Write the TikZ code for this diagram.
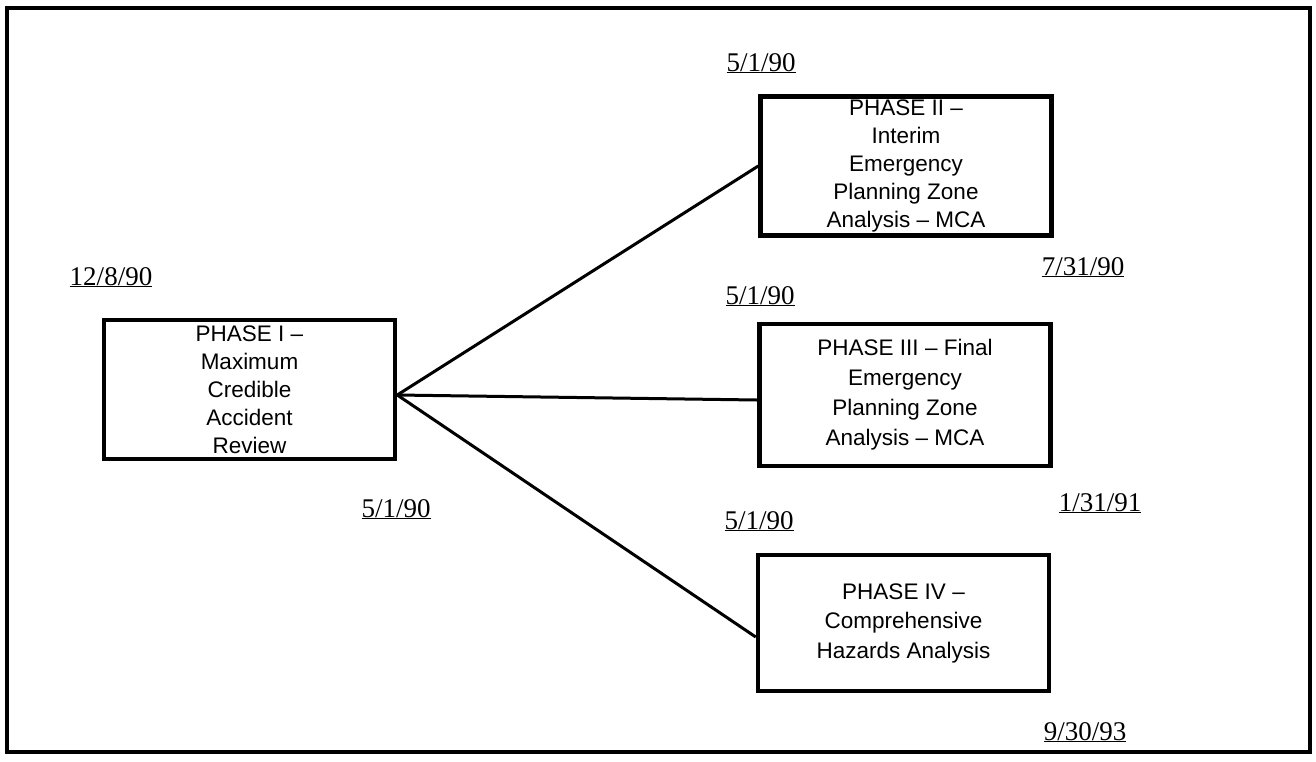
\documentclass[tikz,border=0pt]{standalone}
\usepackage{fontspec}
\setmainfont{Liberation Serif}
\newfontfamily\boxfont{Liberation Sans}
\begin{document}
\begin{tikzpicture}[x=1pt,y=-1pt,
  phase/.style={draw, line width=4.5pt, minimum width=291pt, minimum height=139pt,
    align=center, inner sep=0pt, font=\boxfont\fontsize{22.5}{28}\selectfont},
  datelbl/.style={anchor=base, font=\fontsize{27}{30}\selectfont, inner sep=0pt},
  link/.style={line width=3pt},
  frame/.style={line width=3.5pt}]
\useasboundingbox (0,0) rectangle (1316,761);
\draw[frame] (7,8) rectangle (1310,752);

\node[phase] (p1) at (249.5,389.5) {PHASE I –\\Maximum\\Credible\\Accident\\Review};
\node[phase] (p2) at (906,166) {PHASE II –\\Interim\\Emergency\\Planning Zone\\Analysis – MCA};
\node[phase, minimum height=142pt, font=\boxfont\fontsize{22.5}{30}\selectfont] (p3) at (905,395) {PHASE III – Final\\Emergency\\Planning Zone\\Analysis – MCA};
\node[phase, minimum height=136pt, font=\boxfont\fontsize{22.5}{29.5}\selectfont] (p4) at (903.5,623) {PHASE IV –\\Comprehensive\\Hazards Analysis};

\node[datelbl] (d1) at (111,285) {\underline{12/8/90}};
\node[datelbl] (d2) at (761,71) {\underline{5/1/90}};
\node[datelbl] (d3) at (1083,275) {\underline{7/31/90}};
\node[datelbl] (d4) at (760,304) {\underline{5/1/90}};
\node[datelbl] (d5) at (396,517) {\underline{5/1/90}};
\node[datelbl] (d6) at (1100,511) {\underline{1/31/91}};
\node[datelbl] (d7) at (759,529) {\underline{5/1/90}};
\node[datelbl] (d8) at (1085,740) {\underline{9/30/93}};

\coordinate (j) at ([yshift=-5.5pt]p1.east);
\draw[link] (j) -- (p2.west);
\draw[link] (j) -- ([yshift=-5pt]p3.west);
\draw[link] (j) -- ([yshift=-14pt]p4.west);
\end{tikzpicture}
\end{document}
